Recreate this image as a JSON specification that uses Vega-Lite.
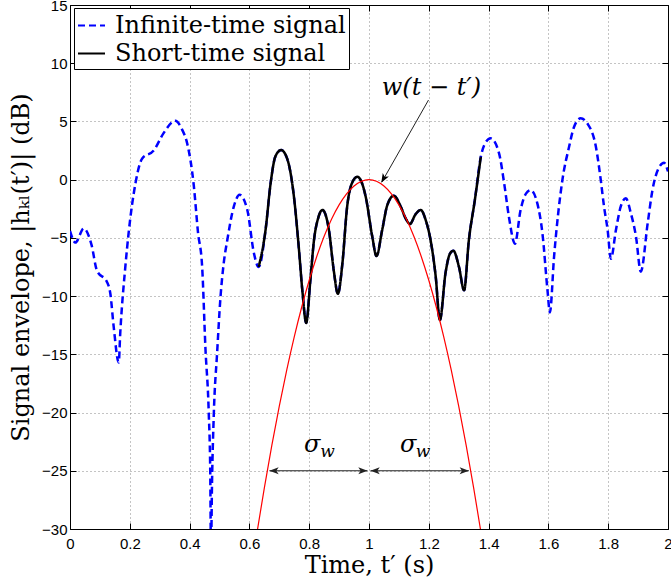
{
 "$schema": "https://vega.github.io/schema/vega-lite/v6.json",
 "width": 598, "height": 524,
 "autosize": {"type": "none"},
 "padding": {"left": 70, "top": 5, "right": 3, "bottom": 53},
 "background": "white",
 "config": {
  "view": {"stroke": null},
  "axis": {"labelFont": "Liberation Sans", "labelFontSize": 15, "labelColor": "black", "domainColor": "black", "tickColor": "black", "titleFont": "DejaVu Serif", "titleFontWeight": "normal", "titleFontSize": 24, "titleColor": "black", "labelFlush": false, "labelOverlap": false}
 },
 "datasets": {
  "sig": [
   {"t":0,"v":-4.4,"s":"Infinite-time signal"},
   {"t":0.018,"v":-5.4,"s":"Infinite-time signal"},
   {"t":0.046,"v":-4.2,"s":"Infinite-time signal"},
   {"t":0.072,"v":-5.6,"s":"Infinite-time signal"},
   {"t":0.09,"v":-7.8,"s":"Infinite-time signal"},
   {"t":0.124,"v":-8.8,"s":"Infinite-time signal"},
   {"t":0.135,"v":-9.8,"s":"Infinite-time signal"},
   {"t":0.146,"v":-12.6,"s":"Infinite-time signal"},
   {"t":0.163,"v":-15.7,"s":"Infinite-time signal"},
   {"t":0.168,"v":-13.2,"s":"Infinite-time signal"},
   {"t":0.185,"v":-7.5,"s":"Infinite-time signal"},
   {"t":0.196,"v":-4.6,"s":"Infinite-time signal"},
   {"t":0.219,"v":-0.3,"s":"Infinite-time signal"},
   {"t":0.241,"v":1.8,"s":"Infinite-time signal"},
   {"t":0.28,"v":2.5,"s":"Infinite-time signal"},
   {"t":0.313,"v":4.0,"s":"Infinite-time signal"},
   {"t":0.352,"v":5.06,"s":"Infinite-time signal"},
   {"t":0.375,"v":4.3,"s":"Infinite-time signal"},
   {"t":0.392,"v":3.1,"s":"Infinite-time signal"},
   {"t":0.414,"v":-0.5,"s":"Infinite-time signal"},
   {"t":0.428,"v":-4.5,"s":"Infinite-time signal"},
   {"t":0.442,"v":-7.5,"s":"Infinite-time signal"},
   {"t":0.453,"v":-14.5,"s":"Infinite-time signal"},
   {"t":0.464,"v":-20,"s":"Infinite-time signal"},
   {"t":0.469,"v":-25,"s":"Infinite-time signal"},
   {"t":0.4715,"v":-32,"s":"Infinite-time signal"},
   {"t":0.475,"v":-26,"s":"Infinite-time signal"},
   {"t":0.481,"v":-20.1,"s":"Infinite-time signal"},
   {"t":0.492,"v":-14.9,"s":"Infinite-time signal"},
   {"t":0.503,"v":-10.2,"s":"Infinite-time signal"},
   {"t":0.514,"v":-7.2,"s":"Infinite-time signal"},
   {"t":0.526,"v":-5.2,"s":"Infinite-time signal"},
   {"t":0.548,"v":-2.3,"s":"Infinite-time signal"},
   {"t":0.567,"v":-1.3,"s":"Infinite-time signal"},
   {"t":0.593,"v":-2.6,"s":"Infinite-time signal"},
   {"t":0.615,"v":-6.3,"s":"Infinite-time signal"},
   {"t":0.631,"v":-7.5,"s":"Infinite-time signal"},
   {"t":0.654,"v":-4.33,"s":"Infinite-time signal"},
   {"t":0.671,"v":-0.3,"s":"Infinite-time signal"},
   {"t":0.687,"v":2.0,"s":"Infinite-time signal"},
   {"t":0.706,"v":2.54,"s":"Infinite-time signal"},
   {"t":0.726,"v":1.83,"s":"Infinite-time signal"},
   {"t":0.749,"v":-1.47,"s":"Infinite-time signal"},
   {"t":0.765,"v":-5.77,"s":"Infinite-time signal"},
   {"t":0.777,"v":-9.5,"s":"Infinite-time signal"},
   {"t":0.79,"v":-12.3,"s":"Infinite-time signal"},
   {"t":0.804,"v":-8.6,"s":"Infinite-time signal"},
   {"t":0.816,"v":-5.2,"s":"Infinite-time signal"},
   {"t":0.83,"v":-3.3,"s":"Infinite-time signal"},
   {"t":0.844,"v":-2.6,"s":"Infinite-time signal"},
   {"t":0.866,"v":-4.33,"s":"Infinite-time signal"},
   {"t":0.882,"v":-7.77,"s":"Infinite-time signal"},
   {"t":0.896,"v":-9.8,"s":"Infinite-time signal"},
   {"t":0.911,"v":-7.2,"s":"Infinite-time signal"},
   {"t":0.927,"v":-2.3,"s":"Infinite-time signal"},
   {"t":0.943,"v":-0.3,"s":"Infinite-time signal"},
   {"t":0.961,"v":0.25,"s":"Infinite-time signal"},
   {"t":0.975,"v":-0.2,"s":"Infinite-time signal"},
   {"t":0.989,"v":-1.47,"s":"Infinite-time signal"},
   {"t":1.011,"v":-4.9,"s":"Infinite-time signal"},
   {"t":1.025,"v":-6.56,"s":"Infinite-time signal"},
   {"t":1.044,"v":-4.33,"s":"Infinite-time signal"},
   {"t":1.061,"v":-2.2,"s":"Infinite-time signal"},
   {"t":1.083,"v":-1.38,"s":"Infinite-time signal"},
   {"t":1.106,"v":-2.3,"s":"Infinite-time signal"},
   {"t":1.122,"v":-3.3,"s":"Infinite-time signal"},
   {"t":1.137,"v":-3.8,"s":"Infinite-time signal"},
   {"t":1.155,"v":-3.0,"s":"Infinite-time signal"},
   {"t":1.173,"v":-2.6,"s":"Infinite-time signal"},
   {"t":1.19,"v":-3.5,"s":"Infinite-time signal"},
   {"t":1.206,"v":-5.2,"s":"Infinite-time signal"},
   {"t":1.223,"v":-8.3,"s":"Infinite-time signal"},
   {"t":1.237,"v":-12.06,"s":"Infinite-time signal"},
   {"t":1.256,"v":-8.0,"s":"Infinite-time signal"},
   {"t":1.27,"v":-6.4,"s":"Infinite-time signal"},
   {"t":1.282,"v":-6.1,"s":"Infinite-time signal"},
   {"t":1.301,"v":-7.5,"s":"Infinite-time signal"},
   {"t":1.318,"v":-9.5,"s":"Infinite-time signal"},
   {"t":1.334,"v":-5.2,"s":"Infinite-time signal"},
   {"t":1.354,"v":-1.75,"s":"Infinite-time signal"},
   {"t":1.374,"v":1.97,"s":"Infinite-time signal"},
   {"t":1.39,"v":3.2,"s":"Infinite-time signal"},
   {"t":1.407,"v":3.55,"s":"Infinite-time signal"},
   {"t":1.435,"v":2.26,"s":"Infinite-time signal"},
   {"t":1.452,"v":-0.3,"s":"Infinite-time signal"},
   {"t":1.468,"v":-3.2,"s":"Infinite-time signal"},
   {"t":1.488,"v":-5.5,"s":"Infinite-time signal"},
   {"t":1.507,"v":-2.6,"s":"Infinite-time signal"},
   {"t":1.525,"v":-1.2,"s":"Infinite-time signal"},
   {"t":1.541,"v":-0.9,"s":"Infinite-time signal"},
   {"t":1.563,"v":-2.04,"s":"Infinite-time signal"},
   {"t":1.58,"v":-4.6,"s":"Infinite-time signal"},
   {"t":1.597,"v":-9.5,"s":"Infinite-time signal"},
   {"t":1.605,"v":-11.4,"s":"Infinite-time signal"},
   {"t":1.619,"v":-6.6,"s":"Infinite-time signal"},
   {"t":1.647,"v":0.0,"s":"Infinite-time signal"},
   {"t":1.669,"v":2.8,"s":"Infinite-time signal"},
   {"t":1.686,"v":4.55,"s":"Infinite-time signal"},
   {"t":1.708,"v":5.27,"s":"Infinite-time signal"},
   {"t":1.731,"v":4.8,"s":"Infinite-time signal"},
   {"t":1.759,"v":2.8,"s":"Infinite-time signal"},
   {"t":1.775,"v":0.0,"s":"Infinite-time signal"},
   {"t":1.786,"v":-2.3,"s":"Infinite-time signal"},
   {"t":1.798,"v":-4.3,"s":"Infinite-time signal"},
   {"t":1.809,"v":-6.8,"s":"Infinite-time signal"},
   {"t":1.826,"v":-4.3,"s":"Infinite-time signal"},
   {"t":1.842,"v":-2.3,"s":"Infinite-time signal"},
   {"t":1.859,"v":-1.6,"s":"Infinite-time signal"},
   {"t":1.876,"v":-2.9,"s":"Infinite-time signal"},
   {"t":1.893,"v":-4.9,"s":"Infinite-time signal"},
   {"t":1.909,"v":-7.9,"s":"Infinite-time signal"},
   {"t":1.932,"v":-3.75,"s":"Infinite-time signal"},
   {"t":1.948,"v":-0.9,"s":"Infinite-time signal"},
   {"t":1.971,"v":1.1,"s":"Infinite-time signal"},
   {"t":1.987,"v":1.45,"s":"Infinite-time signal"},
   {"t":2.0,"v":0.7,"s":"Infinite-time signal"},
   {"t":0.631,"v":-7.5,"s":"Short-time signal"},
   {"t":0.654,"v":-4.33,"s":"Short-time signal"},
   {"t":0.671,"v":-0.3,"s":"Short-time signal"},
   {"t":0.687,"v":2.0,"s":"Short-time signal"},
   {"t":0.706,"v":2.54,"s":"Short-time signal"},
   {"t":0.726,"v":1.83,"s":"Short-time signal"},
   {"t":0.749,"v":-1.47,"s":"Short-time signal"},
   {"t":0.765,"v":-5.77,"s":"Short-time signal"},
   {"t":0.777,"v":-9.5,"s":"Short-time signal"},
   {"t":0.79,"v":-12.3,"s":"Short-time signal"},
   {"t":0.804,"v":-8.6,"s":"Short-time signal"},
   {"t":0.816,"v":-5.2,"s":"Short-time signal"},
   {"t":0.83,"v":-3.3,"s":"Short-time signal"},
   {"t":0.844,"v":-2.6,"s":"Short-time signal"},
   {"t":0.866,"v":-4.33,"s":"Short-time signal"},
   {"t":0.882,"v":-7.77,"s":"Short-time signal"},
   {"t":0.896,"v":-9.8,"s":"Short-time signal"},
   {"t":0.911,"v":-7.2,"s":"Short-time signal"},
   {"t":0.927,"v":-2.3,"s":"Short-time signal"},
   {"t":0.943,"v":-0.3,"s":"Short-time signal"},
   {"t":0.961,"v":0.25,"s":"Short-time signal"},
   {"t":0.975,"v":-0.2,"s":"Short-time signal"},
   {"t":0.989,"v":-1.47,"s":"Short-time signal"},
   {"t":1.011,"v":-4.9,"s":"Short-time signal"},
   {"t":1.025,"v":-6.56,"s":"Short-time signal"},
   {"t":1.044,"v":-4.33,"s":"Short-time signal"},
   {"t":1.061,"v":-2.2,"s":"Short-time signal"},
   {"t":1.083,"v":-1.38,"s":"Short-time signal"},
   {"t":1.106,"v":-2.3,"s":"Short-time signal"},
   {"t":1.122,"v":-3.3,"s":"Short-time signal"},
   {"t":1.137,"v":-3.8,"s":"Short-time signal"},
   {"t":1.155,"v":-3.0,"s":"Short-time signal"},
   {"t":1.173,"v":-2.6,"s":"Short-time signal"},
   {"t":1.19,"v":-3.5,"s":"Short-time signal"},
   {"t":1.206,"v":-5.2,"s":"Short-time signal"},
   {"t":1.223,"v":-8.3,"s":"Short-time signal"},
   {"t":1.237,"v":-12.06,"s":"Short-time signal"},
   {"t":1.256,"v":-8.0,"s":"Short-time signal"},
   {"t":1.27,"v":-6.4,"s":"Short-time signal"},
   {"t":1.282,"v":-6.1,"s":"Short-time signal"},
   {"t":1.301,"v":-7.5,"s":"Short-time signal"},
   {"t":1.318,"v":-9.5,"s":"Short-time signal"},
   {"t":1.334,"v":-5.2,"s":"Short-time signal"},
   {"t":1.354,"v":-1.75,"s":"Short-time signal"},
   {"t":1.374,"v":1.97,"s":"Short-time signal"}
  ],
  "win": [
   {"t":0.6,"v":-34.56},{"t":0.625,"v":-30.375},{"t":0.65,"v":-26.46},{"t":0.675,"v":-22.815},
   {"t":0.7,"v":-19.44},{"t":0.725,"v":-16.335},{"t":0.75,"v":-13.5},{"t":0.775,"v":-10.935},
   {"t":0.8,"v":-8.64},{"t":0.825,"v":-6.615},{"t":0.85,"v":-4.86},{"t":0.875,"v":-3.375},
   {"t":0.9,"v":-2.16},{"t":0.925,"v":-1.215},{"t":0.95,"v":-0.54},{"t":0.975,"v":-0.135},
   {"t":1.0,"v":0},{"t":1.025,"v":-0.135},{"t":1.05,"v":-0.54},{"t":1.075,"v":-1.215},
   {"t":1.1,"v":-2.16},{"t":1.125,"v":-3.375},{"t":1.15,"v":-4.86},{"t":1.175,"v":-6.615},
   {"t":1.2,"v":-8.64},{"t":1.225,"v":-10.935},{"t":1.25,"v":-13.5},{"t":1.275,"v":-16.335},
   {"t":1.3,"v":-19.44},{"t":1.325,"v":-22.815},{"t":1.35,"v":-26.46},{"t":1.375,"v":-30.375},
   {"t":1.4,"v":-34.56}
  ],
  "arr": [
   {"x1":0.667,"y1":-25,"x2":0.995,"y2":-25},
   {"x1":1.005,"y1":-25,"x2":1.334,"y2":-25},
   {"x1":1.199,"y1":6.84,"x2":1.043,"y2":-0.2}
  ],
  "headR": [{"t":0.995,"v":-25},{"t":1.334,"v":-25}],
  "headL": [{"t":0.667,"v":-25},{"t":1.005,"v":-25}],
  "headD": [{"t":1.041,"v":-0.27}],
  "lab": [
   {"t":1.209,"v":7.9,"txt":"w(t − t′)"},
   {"t":0.81,"v":-22.8,"txt":"σ"},
   {"t":1.131,"v":-22.8,"txt":"σ"}
  ],
  "sub": [
   {"t":0.861,"v":-23.4,"txt":"w"},
   {"t":1.181,"v":-23.4,"txt":"w"}
  ]
 },
 "resolve": {"axis": {"x": "independent", "y": "independent"}},
 "layer": [
  {
   "data": {"name": "sig"},
   "mark": {"type": "line", "strokeWidth": 2.5, "clip": true, "interpolate": "monotone"},
   "encoding": {
    "x": {"field": "t", "type": "quantitative", "scale": {"domain": [0, 2], "nice": false, "zero": false},
          "axis": {"orient": "bottom", "values": [0,0.2,0.4,0.6,0.8,1,1.2,1.4,1.6,1.8,2], "format": "~g", "grid": true, "gridDash": [1,3], "gridColor": "#888", "tickSize": -6, "labelPadding": 13, "title": "Time, t′ (s)", "titlePadding": 2}},
    "y": {"field": "v", "type": "quantitative", "scale": {"domain": [-30, 15], "nice": false, "zero": false},
          "axis": {"orient": "left", "values": [-30,-25,-20,-15,-10,-5,0,5,10,15], "format": "~g", "grid": true, "gridDash": [1,3], "gridColor": "#888", "tickSize": -6, "labelPadding": 9, "title": "Signal envelope, |hₖₗ(t′)| (dB)", "titlePadding": 8}},
    "color": {"field": "s", "type": "nominal", "scale": {"domain": ["Infinite-time signal", "Short-time signal"], "range": ["#0000ff", "#000000"]},
              "legend": {"title": null, "orient": "none", "legendX": 4, "legendY": 3, "fillColor": "white", "strokeColor": "black", "padding": 3, "rowPadding": 1, "symbolType": "stroke", "symbolSize": 729, "symbolStrokeWidth": 2, "labelFont": "DejaVu Serif", "labelFontSize": 24, "labelColor": "black", "labelLimit": 400, "labelOffset": 9}},
    "strokeDash": {"field": "s", "type": "nominal", "scale": {"domain": ["Infinite-time signal", "Short-time signal"], "range": [[7,4],[1,0]]},
              "legend": {"title": null, "orient": "none", "legendX": 4, "legendY": 3, "fillColor": "white", "strokeColor": "black", "padding": 3, "rowPadding": 1, "symbolType": "stroke", "symbolSize": 729, "symbolStrokeWidth": 2, "labelFont": "DejaVu Serif", "labelFontSize": 24, "labelColor": "black", "labelLimit": 400, "labelOffset": 9}}
   }
  },
  {
   "data": {"name": "win"},
   "mark": {"type": "line", "color": "#ff0000", "strokeWidth": 1.2, "clip": true, "interpolate": "monotone"},
   "encoding": {
    "x": {"field": "t", "type": "quantitative", "axis": {"orient": "top", "values": [0,0.2,0.4,0.6,0.8,1,1.2,1.4,1.6,1.8,2], "labels": false, "grid": false, "tickSize": -6, "title": null}},
    "y": {"field": "v", "type": "quantitative", "axis": {"orient": "right", "values": [-30,-25,-20,-15,-10,-5,0,5,10,15], "labels": false, "grid": false, "tickSize": -6, "title": null}}
   }
  },
  {
   "data": {"name": "arr"},
   "mark": {"type": "rule", "color": "#222222", "strokeWidth": 1},
   "encoding": {
    "x": {"field": "x1", "type": "quantitative", "axis": null},
    "y": {"field": "y1", "type": "quantitative", "axis": null},
    "x2": {"field": "x2"},
    "y2": {"field": "y2"}
   }
  },
  {
   "data": {"name": "headR"},
   "mark": {"type": "point", "shape": "M0,0L-1,-0.38L-0.75,0L-1,0.38Z", "filled": true, "color": "#222222", "opacity": 1, "size": 340, "angle": 0},
   "encoding": {
    "x": {"field": "t", "type": "quantitative", "axis": null},
    "y": {"field": "v", "type": "quantitative", "axis": null}
   }
  },
  {
   "data": {"name": "headL"},
   "mark": {"type": "point", "shape": "M0,0L-1,-0.38L-0.75,0L-1,0.38Z", "filled": true, "color": "#222222", "opacity": 1, "size": 340, "angle": 180},
   "encoding": {
    "x": {"field": "t", "type": "quantitative", "axis": null},
    "y": {"field": "v", "type": "quantitative", "axis": null}
   }
  },
  {
   "data": {"name": "headD"},
   "mark": {"type": "point", "shape": "M0,0L-1,-0.38L-0.75,0L-1,0.38Z", "filled": true, "color": "#000000", "opacity": 1, "size": 340, "angle": 119.6},
   "encoding": {
    "x": {"field": "t", "type": "quantitative", "axis": null},
    "y": {"field": "v", "type": "quantitative", "axis": null}
   }
  },
  {
   "data": {"name": "lab"},
   "mark": {"type": "text", "font": "DejaVu Serif", "fontStyle": "italic", "fontSize": 24, "color": "black", "align": "center", "baseline": "middle"},
   "encoding": {
    "x": {"field": "t", "type": "quantitative", "axis": null},
    "y": {"field": "v", "type": "quantitative", "axis": null},
    "text": {"field": "txt"}
   }
  },
  {
   "data": {"name": "sub"},
   "mark": {"type": "text", "font": "DejaVu Serif", "fontStyle": "italic", "fontSize": 17, "color": "black", "align": "center", "baseline": "middle"},
   "encoding": {
    "x": {"field": "t", "type": "quantitative", "axis": null},
    "y": {"field": "v", "type": "quantitative", "axis": null},
    "text": {"field": "txt"}
   }
  }
 ]
}
